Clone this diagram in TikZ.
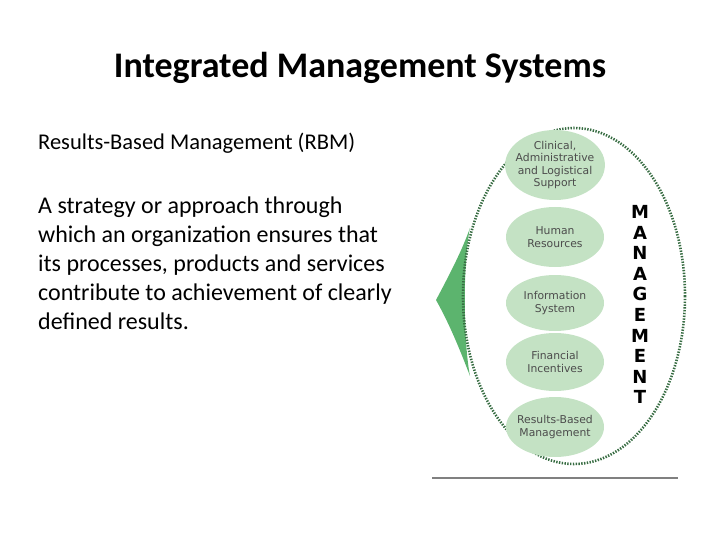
\documentclass[tikz,border=0pt]{standalone}
\usepackage{fontspec}
\usetikzlibrary{shapes.geometric}
\setmainfont{Carlito}
\newfontfamily\gfont{DejaVu Sans}
\begin{document}
\begin{tikzpicture}[x=1pt,y=-1pt,
  comp/.style={ellipse,fill=gbox,minimum width=98pt,minimum height=60pt,inner sep=-4pt,align=center,font=\gfont\fontsize{10.8}{12.5}\selectfont,text=black!70},
  letter/.style={font=\gfont\bfseries\fontsize{18}{18}\selectfont}]
\definecolor{gbox}{RGB}{196,226,196}
\definecolor{gtri}{RGB}{92,180,110}
\useasboundingbox (0,0) rectangle (720,540);
\node[font=\bfseries\fontsize{36}{40}\selectfont] (title) at (360,68) {Integrated Management Systems};
\node[anchor=west,inner sep=0pt,font=\fontsize{22.5}{24}\selectfont] (sub) at (38,143) {Results-Based Management (RBM)};
\node[anchor=north west,align=left,font=\fontsize{24}{28.8}\selectfont,inner sep=0pt] (para) at (38,197) {A strategy or approach through\\which an organization ensures that\\its processes, products and services\\contribute to achievement of clearly\\defined results.};
\fill[gtri] (436,300) .. controls (452,270) and (462,250) .. (470,228) .. controls (463,260) and (463,340) .. (470,376) .. controls (460,350) and (450,325) .. (436,300) -- cycle;
\draw[gtri!60!black,line width=2.6pt,dash pattern=on 1.4pt off 1.4pt] (574,296) ellipse [x radius=111,y radius=168];
\node[comp,minimum height=70pt] (c1) at (555,165) {Clinical,\\Administrative\\and Logistical\\Support};
\node[comp] (c2) at (555,237) {Human\\Resources};
\node[comp,minimum height=56pt] (c3) at (555,303) {Information\\System};
\node[comp,minimum height=58pt] (c4) at (555,362) {Financial\\Incentives};
\node[comp] (c5) at (555,427) {Results-Based\\Management};
\foreach \l [count=\i] in {M,A,N,A,G,E,M,E,N,T}
  \node[letter] (m\i) at (640,{212+(\i-1)*20.6}) {\l};
\draw[gray,line width=1.5pt] (432,478) -- (678,478);
\end{tikzpicture}
\end{document}
